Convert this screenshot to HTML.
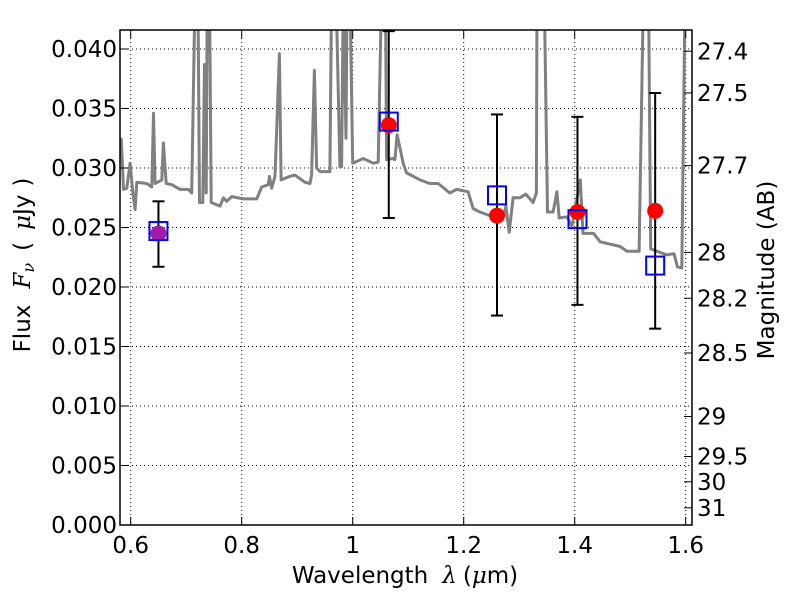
<!DOCTYPE html>
<html><head><meta charset="utf-8"><style>
body{margin:0;background:#fff;}
svg{display:block;font-family:"DejaVu Sans","Liberation Sans",sans-serif;}
</style></head><body>
<svg id="chart" width="800" height="600" viewBox="0 0 800 600">
<rect width="800" height="600" fill="#fff"/>
<g id="grid"></g>
<g id="spec"></g>
<g id="marks"></g>
<g id="axes"></g>
<text x="405" y="583" font-size="23" text-anchor="middle">Wavelength<tspan dx="14" font-family="DejaVu Serif" font-style="italic">λ</tspan><tspan dx="6">(</tspan><tspan font-family="DejaVu Serif" font-style="italic">μ</tspan>m)</text>
<text transform="translate(30,265) rotate(-90)" font-size="23" text-anchor="middle">Flux<tspan dx="16" font-family="DejaVu Serif" font-style="italic">F</tspan><tspan font-family="DejaVu Serif" font-style="italic" font-size="16" dy="4">ν</tspan><tspan dy="-4" dx="12">(</tspan><tspan dx="12" font-family="DejaVu Serif" font-style="italic">μ</tspan>Jy<tspan dx="8">)</tspan></text>
<text transform="translate(774,270) rotate(-90)" font-size="23" text-anchor="middle">Magnitude (AB)</text>
</svg>
<script>
const specLam=[0.581,0.583,0.587,0.593,0.599,0.604,0.608,0.611,0.629,0.638,0.641,0.644,0.656,0.659,0.664,0.674,0.689,0.704,0.710,0.716,0.721,0.724,0.730,0.733,0.736,0.738,0.742,0.745,0.761,0.767,0.773,0.782,0.803,0.827,0.836,0.848,0.850,0.854,0.860,0.868,0.871,0.887,0.896,0.914,0.923,0.926,0.931,0.935,0.941,0.959,0.962,0.970,0.977,0.980,0.983,0.988,0.990,0.995,1.000,1.019,1.037,1.046,1.052,1.059,1.061,1.072,1.076,1.080,1.091,1.097,1.109,1.121,1.139,1.154,1.175,1.187,1.208,1.217,1.229,1.247,1.271,1.276,1.282,1.289,1.301,1.312,1.325,1.331,1.332,1.345,1.351,1.361,1.368,1.372,1.386,1.395,1.410,1.415,1.434,1.446,1.464,1.482,1.494,1.516,1.524,1.533,1.537,1.566,1.579,1.585,1.593,1.599,1.611];
const specFlux=[0.0324,0.0324,0.0282,0.0283,0.0304,0.0279,0.0265,0.0288,0.0287,0.0284,0.0346,0.0287,0.0290,0.0321,0.0287,0.0286,0.0282,0.0282,0.0279,0.045,0.045,0.0271,0.0271,0.0387,0.0279,0.045,0.045,0.0271,0.0268,0.0275,0.0272,0.0276,0.0274,0.0274,0.0284,0.0286,0.0293,0.0283,0.0293,0.0396,0.0290,0.0293,0.0294,0.0288,0.0287,0.0294,0.0382,0.0300,0.0297,0.0297,0.045,0.045,0.0301,0.0301,0.045,0.0325,0.045,0.045,0.0304,0.0308,0.0304,0.0305,0.045,0.045,0.0307,0.0308,0.0307,0.0328,0.0304,0.0296,0.0293,0.0290,0.0287,0.0287,0.0279,0.0282,0.0280,0.0266,0.0263,0.0260,0.0259,0.0268,0.0246,0.0275,0.0275,0.0278,0.0271,0.0279,0.045,0.045,0.0263,0.0263,0.0280,0.0258,0.0259,0.0251,0.0290,0.0245,0.0245,0.0238,0.0236,0.0234,0.0230,0.0230,0.045,0.045,0.0232,0.0227,0.0228,0.0217,0.0216,0.045,0.045];
const bandLam=[0.65,1.065,1.26,1.405,1.545];
const obsFlux=[0.0245,0.0336,0.0260,0.0263,0.0264];
const errLo=[0.0217,0.0258,0.0176,0.0185,0.0165];
const errHi=[0.0272,0.0415,0.0345,0.0343,0.0363];
const modelFlux=[0.0247,0.0339,0.0277,0.0257,0.0218];
const xTicks=[0.6,0.8,1.0,1.2,1.4,1.6];
const xTickLabels=["0.6","0.8","1","1.2","1.4","1.6"];
const yTicks=[0,0.005,0.01,0.015,0.02,0.025,0.03,0.035,0.04];
const yTickLabels=["0.000","0.005","0.010","0.015","0.020","0.025","0.030","0.035","0.040"];
const magTicks=[27.4,27.5,27.7,28,28.2,28.5,29,29.5,30,31];
const magTickLabels=["27.4","27.5","27.7","28","28.2","28.5","29","29.5","30","31"];

const L=120,R=692,T=30,B=525;
const X=v=>130.7+(v-0.6)*555;
const Y=v=>B-v*11900;
const NS="http://www.w3.org/2000/svg";
function mk(tag,attrs,parent){const e=document.createElementNS(NS,tag);for(const k in attrs)e.setAttribute(k,attrs[k]);parent.appendChild(e);return e;}
const grid=document.getElementById('grid'),spec=document.getElementById('spec'),marks=document.getElementById('marks'),axes=document.getElementById('axes');

const defs=mk('defs',{},document.getElementById('chart'));
const cp=mk('clipPath',{id:'clip'},defs);
mk('rect',{x:L,y:T,width:R-L,height:B-T},cp);
spec.setAttribute('clip-path','url(#clip)');
marks.setAttribute('clip-path','url(#clip)');

xTicks.forEach((t,i)=>{
  const x=X(t);
  const g=mk('line',{x1:x,x2:x,y1:T,y2:B,stroke:'#000','stroke-width':1,'stroke-dasharray':'1,3'},grid);
  
  
  mk('line',{x1:x,x2:x,y1:B,y2:B-8,stroke:'#000'},axes);
  mk('line',{x1:x,x2:x,y1:T,y2:T+8,stroke:'#000'},axes);
  const tx=mk('text',{x:x,y:B+28,'font-size':23,'text-anchor':'middle'},axes);
  tx.textContent=xTickLabels[i];
  
  
});
yTicks.forEach((t,i)=>{
  const y=Y(t);
  const g=mk('line',{x1:L,x2:R,y1:y,y2:y,stroke:'#000','stroke-width':1,'stroke-dasharray':'1,3'},grid);
  
  
  mk('line',{x1:L,x2:L+8,y1:y,y2:y,stroke:'#000'},axes);
  const tx=mk('text',{x:L-3,y:y+8,'font-size':23,'text-anchor':'end'},axes);
  tx.textContent=yTickLabels[i];
  
  
});
magTicks.forEach((m,i)=>{
  const f=Math.pow(10,-0.4*(m-23.9));
  const y=Y(f);
  mk('line',{x1:R,x2:R-8,y1:y,y2:y,stroke:'#000'},axes);
  const tx=mk('text',{x:R+5,y:y+8,'font-size':23,'text-anchor':'start'},axes);
  tx.textContent=magTickLabels[i];
  
  
});
const frame=mk('rect',{x:L,y:T,width:R-L,height:B-T,fill:'none',stroke:'#000','stroke-width':1.5},axes);



let d='';
specLam.forEach((l,i)=>{d+=(i?'L':'M')+X(l).toFixed(1)+','+Y(specFlux[i]).toFixed(1);});
const sp=mk('path',{d:d,fill:'none',stroke:'#808080','stroke-width':3,'stroke-linejoin':'round'},spec);



bandLam.forEach((l,i)=>{
  const x=X(l);
  const eb=mk('g',{},marks);
  
  
  mk('line',{x1:x,x2:x,y1:Y(errLo[i]),y2:Y(errHi[i]),stroke:'#000','stroke-width':2},eb);
  mk('line',{x1:x-6,x2:x+6,y1:Y(errLo[i]),y2:Y(errLo[i]),stroke:'#000','stroke-width':2},eb);
  mk('line',{x1:x-6,x2:x+6,y1:Y(errHi[i]),y2:Y(errHi[i]),stroke:'#000','stroke-width':2},eb);
  const c=mk('circle',{cx:x,cy:Y(obsFlux[i]),r:8,fill:i===0?'#a21aa8':'#ff0000'},marks);
  
  
  const s=mk('rect',{x:x-9,y:Y(modelFlux[i])-9,width:18,height:18,fill:'none',stroke:'#0000ff','stroke-width':2},marks);
  
  
});
</script>
</body></html>
